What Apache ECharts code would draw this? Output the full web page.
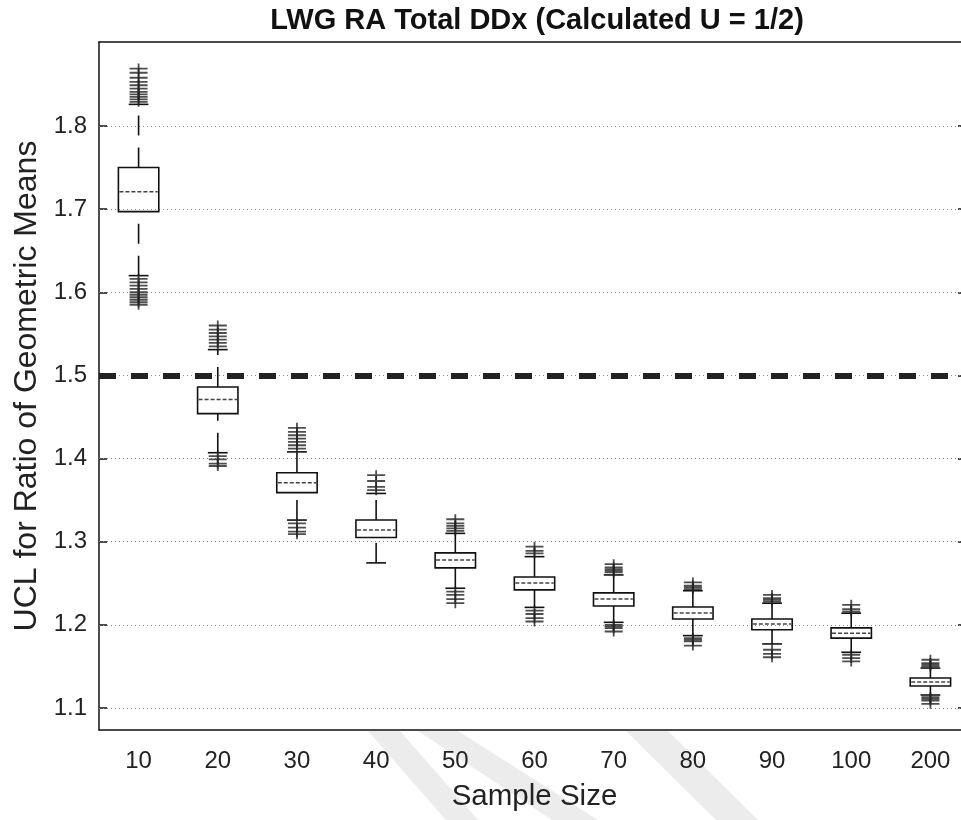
<!DOCTYPE html>
<html><head><meta charset="utf-8">
<script src="https://cdn.jsdelivr.net/npm/echarts@6/dist/echarts.min.js"></script>
<style>html,body{margin:0;padding:0;background:#fff}#c{width:961px;height:820px}</style>
</head><body><div id="c"></div>
<script>
// ---- data ----
const categories = ['10','20','30','40','50','60','70','80','90','100','200'];
const lowerWhisker = [1.620, 1.407, 1.326, 1.2745, 1.244, 1.221, 1.203, 1.187, 1.177, 1.167, 1.1156];
const q1           = [1.697, 1.454, 1.359, 1.305, 1.2685, 1.242, 1.2227, 1.207, 1.194, 1.184, 1.1265];
const median       = [1.721, 1.471, 1.371, 1.314, 1.278, 1.2504, 1.2312, 1.2143, 1.2011, 1.190, 1.1313];
const q3           = [1.750, 1.486, 1.383, 1.326, 1.2865, 1.2576, 1.2384, 1.2215, 1.207, 1.1963, 1.136];
const upperWhisker = [1.826, 1.531, 1.408, 1.358, 1.310, 1.282, 1.260, 1.241, 1.226, 1.214, 1.148];
const upperOutliers = [
  [1.829, 1.832, 1.835, 1.838, 1.841, 1.845, 1.849, 1.853, 1.858, 1.864, 1.869],
  [1.535, 1.539, 1.543, 1.547, 1.551, 1.555, 1.560],
  [1.412, 1.416, 1.420, 1.424, 1.428, 1.432, 1.437],
  [1.362, 1.366, 1.373, 1.380],
  [1.313, 1.316, 1.319, 1.322, 1.327],
  [1.286, 1.289, 1.294],
  [1.263, 1.265, 1.267, 1.269, 1.273],
  [1.243, 1.245, 1.247, 1.251],
  [1.228, 1.230, 1.232, 1.236],
  [1.216, 1.219, 1.224],
  [1.150, 1.152, 1.154, 1.158]
];
const lowerOutliers = [
  [1.616, 1.612, 1.608, 1.604, 1.600, 1.597, 1.594, 1.591, 1.588, 1.585],
  [1.403, 1.399, 1.394, 1.391],
  [1.322, 1.317, 1.312, 1.309],
  [],
  [1.240, 1.236, 1.231, 1.226],
  [1.217, 1.213, 1.208, 1.204],
  [1.200, 1.198, 1.196, 1.192],
  [1.184, 1.182, 1.180, 1.175],
  [1.170, 1.165, 1.161],
  [1.164, 1.160, 1.156],
  [1.113, 1.111, 1.109, 1.105]
];
const yTicks = [1.1, 1.2, 1.3, 1.4, 1.5, 1.6, 1.7, 1.8];
const threshold = 1.5;
const yMin = 1.0735, yMax = 1.901;

// ---- build ----
const FONT = 'Liberation Sans, Arial, Helvetica, sans-serif';
const boxData = categories.map((c, i) => [i, lowerWhisker[i], q1[i], median[i], q3[i], upperWhisker[i]]);
const outlierData = [];
categories.forEach((c, i) => {
  upperOutliers[i].forEach(v => outlierData.push([i, v]));
  lowerOutliers[i].forEach(v => outlierData.push([i, v]));
});

function renderBox(params, api) {
  const i = api.value(0);
  const pLo = api.coord([i, api.value(1)]);
  const x = pLo[0], yLo = pLo[1];
  const yQ1 = api.coord([i, api.value(2)])[1];
  const yMed = api.coord([i, api.value(3)])[1];
  const yQ3 = api.coord([i, api.value(4)])[1];
  const yHi = api.coord([i, api.value(5)])[1];
  const band = api.size([1, 0])[0];
  const bw = band * 0.51, cw = band * 0.25;
  const ln = { stroke: '#111', lineWidth: 1.6 };
  return {
    type: 'group',
    children: [
      { type: 'line', shape: { x1: x, y1: yQ3, x2: x, y2: yHi }, style: Object.assign({ lineDash: [20, 12] }, ln) },
      { type: 'line', shape: { x1: x, y1: yLo, x2: x, y2: yQ1 }, style: Object.assign({ lineDash: [20, 12] }, ln) },
      { type: 'line', shape: { x1: x - cw / 2, y1: yHi, x2: x + cw / 2, y2: yHi }, style: ln },
      { type: 'line', shape: { x1: x - cw / 2, y1: yLo, x2: x + cw / 2, y2: yLo }, style: ln },
      { type: 'rect', shape: { x: x - bw / 2, y: yQ3, width: bw, height: yQ1 - yQ3 }, style: { stroke: '#111', lineWidth: 1.6, fill: 'transparent' } },
      { type: 'line', shape: { x1: x - bw / 2 + 1, y1: yMed, x2: x + bw / 2 - 1, y2: yMed }, style: { stroke: '#444', lineWidth: 1.5, lineDash: [4, 2] } }
    ]
  };
}

const chart = echarts.init(document.getElementById('c'), null, { renderer: 'canvas' });
const axisLineStyle = { color: '#111', width: 1.5 };
chart.setOption({
  animation: false,
  backgroundColor: '#fff',
  textStyle: { fontFamily: FONT },
  title: {
    text: 'LWG RA Total DDx (Calculated U = 1/2)',
    left: 532, top: 1, textAlign: 'center',
    textStyle: { fontSize: 29, fontWeight: 'bold', color: '#111', fontFamily: FONT }
  },
  graphic: [
    { type: 'polygon', z: -10, silent: true, shape: { points: [[368, 731], [400, 731], [478, 820], [446, 820]] }, style: { fill: '#ececec' } },
    { type: 'polygon', z: -10, silent: true, shape: { points: [[418, 731], [458, 731], [598, 820], [552, 820]] }, style: { fill: '#ececec' } },
    { type: 'polygon', z: -10, silent: true, shape: { points: [[626, 731], [668, 731], [758, 820], [716, 820]] }, style: { fill: '#ececec' } }
  ],
  grid: { left: 99, top: 42, width: 871, height: 688, outerBoundsMode: 'none', containLabel: false },
  xAxis: [{
    type: 'category', data: categories, position: 'bottom',
    axisLine: { lineStyle: axisLineStyle },
    axisTick: { inside: true, length: 8, alignWithLabel: true, lineStyle: axisLineStyle },
    axisLabel: { color: '#222', fontSize: 24, margin: 19, fontFamily: FONT },
    splitLine: { show: false },
    name: 'Sample Size', nameLocation: 'middle', nameGap: 52,
    nameTextStyle: { fontSize: 29.5, color: '#222', fontFamily: FONT }
  }, {
    type: 'category', data: categories, position: 'top',
    axisLine: { lineStyle: axisLineStyle },
    axisTick: { inside: true, length: 8, alignWithLabel: true, lineStyle: axisLineStyle },
    axisLabel: { show: false }, splitLine: { show: false }
  }],
  yAxis: [{
    type: 'value', min: yMin, max: yMax, position: 'left',
    axisLine: { show: true, lineStyle: axisLineStyle },
    axisTick: { show: true, inside: true, length: 8, lineStyle: axisLineStyle, customValues: yTicks },
    axisLabel: { color: '#222', fontSize: 24, margin: 12, fontFamily: FONT, customValues: yTicks, formatter: v => v.toFixed(1) },
    splitLine: { show: false },
    name: 'UCL for Ratio of Geometric Means', nameLocation: 'middle', nameGap: 47, nameRotate: 90,
    nameTextStyle: { fontSize: 32, color: '#222', fontFamily: FONT }
  }, {
    type: 'value', min: yMin, max: yMax, position: 'right',
    axisLine: { show: true, lineStyle: axisLineStyle },
    axisTick: { show: true, inside: true, length: 12, lineStyle: axisLineStyle, customValues: yTicks },
    axisLabel: { show: false }, splitLine: { show: false }
  }],
  series: [
    {
      name: 'grid', type: 'line', data: [], z: 1, silent: true,
      markLine: {
        silent: true, symbol: 'none', label: { show: false },
        lineStyle: { type: [1, 3], color: '#8a8a8a', width: 1 },
        data: yTicks.map(v => ({ yAxis: v }))
      }
    },
    {
      name: 'threshold', type: 'line', data: [], z: 3, silent: true,
      markLine: {
        silent: true, symbol: 'none', label: { show: false },
        lineStyle: { type: [17, 15], color: '#222', width: 6 },
        data: [{ yAxis: threshold }]
      }
    },
    {
      name: 'boxes', type: 'custom', renderItem: renderBox, data: boxData, z: 5,
      encode: { x: 0, y: [1, 2, 3, 4, 5] }
    },
    {
      name: 'outliers', type: 'scatter', data: outlierData, z: 6,
      symbol: 'path://M0,4.1h18v1.8h-18z M8.1,0h1.8v10h-1.8z',
      symbolSize: [18, 10], symbolKeepAspect: false,
      itemStyle: { color: '#222' }
    }
  ]
});
</script>
</body></html>
